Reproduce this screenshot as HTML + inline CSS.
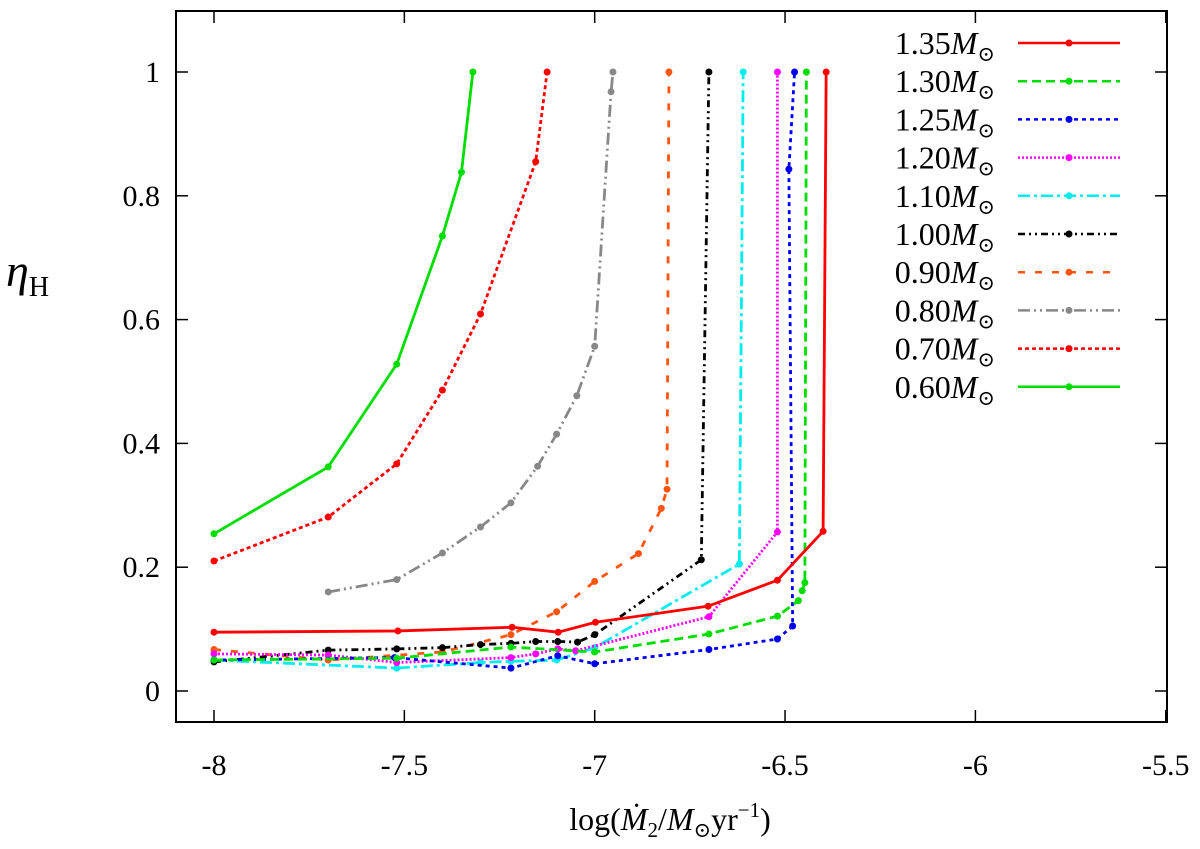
<!DOCTYPE html>
<html><head><meta charset="utf-8"><style>
body{margin:0;background:#fff;}
svg text{font-family:"Liberation Serif","DejaVu Serif",serif;}
</style></head><body>
<svg id="chart" width="1200" height="844" xmlns="http://www.w3.org/2000/svg">
<rect x="0" y="0" width="1200" height="844" fill="#fff"/>
<g id="ticks"></g>
<g id="series"></g>
<g id="legend"></g>
<rect x="176" y="11" width="991" height="711" fill="none" stroke="#000" stroke-width="2"/>
<text x="6" y="286" font-size="46" font-style="italic">η<tspan font-size="28" font-style="normal" dy="10">H</tspan></text>
<text x="670" y="830" font-size="32" text-anchor="middle">log(<tspan font-style="italic">Ṁ</tspan><tspan font-size="21" dy="7">2</tspan><tspan dy="-7">/</tspan><tspan font-style="italic">M</tspan><tspan font-size="21" dy="7">⊙</tspan><tspan dy="-7">yr</tspan><tspan font-size="21" dy="-13">−1</tspan><tspan dy="13">)</tspan></text>
</svg>
<script>
const xTicks=[-8,-7.5,-7,-6.5,-6,-5.5];
const xTickLabels=["-8","-7.5","-7","-6.5","-6","-5.5"];
const yTicks=[0,0.2,0.4,0.6,0.8,1];
const yTickLabels=["0","0.2","0.4","0.6","0.8","1"];
const seriesNames=["1.35","1.30","1.25","1.20","1.10","1.00","0.90","0.80","0.70","0.60"];
const x135=[-8,-7.517,-7.217,-7.096,-6.998,-6.702,-6.52,-6.40,-6.392];
const y135=[0.095,0.097,0.103,0.095,0.111,0.137,0.179,0.258,1.0];
const x130=[-8,-7.52,-7.22,-7.0,-6.7,-6.52,-6.465,-6.455,-6.448,-6.444];
const y130=[0.05,0.053,0.071,0.063,0.092,0.121,0.146,0.162,0.175,1.0];
const x125=[-8,-7.526,-7.22,-7.097,-7.0,-6.7,-6.52,-6.48,-6.49,-6.475];
const y125=[0.05,0.054,0.037,0.057,0.044,0.067,0.084,0.105,0.843,1.0];
const x120=[-8,-7.7,-7.52,-7.22,-7.155,-7.097,-7.05,-6.7,-6.52,-6.52];
const y120=[0.06,0.058,0.046,0.054,0.06,0.068,0.065,0.12,0.257,1.0];
const x110=[-8,-7.52,-7.3,-7.22,-7.1,-7.0,-6.62,-6.61];
const y110=[0.05,0.037,0.046,0.048,0.05,0.07,0.205,1.0];
const x100=[-8,-7.7,-7.52,-7.4,-7.3,-7.22,-7.155,-7.097,-7.045,-7.0,-6.72,-6.70];
const y100=[0.047,0.066,0.068,0.07,0.075,0.077,0.08,0.08,0.079,0.091,0.212,1.0];
const x090=[-8,-7.7,-7.4,-7.22,-7.1,-7.0,-6.885,-6.825,-6.81,-6.805];
const y090=[0.067,0.05,0.063,0.091,0.128,0.177,0.222,0.295,0.326,1.0];
const x080=[-7.7,-7.52,-7.4,-7.3,-7.22,-7.15,-7.1,-7.047,-7.0,-6.957,-6.952];
const y080=[0.16,0.18,0.223,0.265,0.304,0.363,0.415,0.477,0.557,0.968,1.0];
const x070=[-8,-7.7,-7.52,-7.4,-7.3,-7.155,-7.125];
const y070=[0.21,0.281,0.367,0.486,0.609,0.855,1.0];
const x060=[-8,-7.7,-7.52,-7.4,-7.35,-7.32];
const y060=[0.254,0.362,0.528,0.735,0.838,1.0];

const NS="http://www.w3.org/2000/svg";
function X(v){return 214+(v+8)*380.7;}
function Y(v){return 691-619*v;}
const styles=[
 ["#ff0000",""],["#00dd00","9,5"],["#0000ee","4,4"],["#ff00ff","2,2"],["#00eeee","12,4,3,4"],
 ["#000000","7,4,2,4,2,4"],["#ff5511","7,10"],["#888888","12,4,2,4,2,4"],["#ff0000","4,3"],["#00dd00",""]];
const xs=[x135,x130,x125,x120,x110,x100,x090,x080,x070,x060];
const ys=[y135,y130,y125,y120,y110,y100,y090,y080,y070,y060];
function mk(t,a,p){const e=document.createElementNS(NS,t);for(const k in a)e.setAttribute(k,a[k]);p.appendChild(e);return e;}
const tg=document.getElementById('ticks');
xTicks.forEach((v,i)=>{
 const l=mk('line',{x1:X(v),x2:X(v),y1:722,y2:710,stroke:'#000','stroke-width':1.5},tg);
 
 
 const l2=mk('line',{x1:X(v),x2:X(v),y1:11,y2:23,stroke:'#000','stroke-width':1.5},tg);
 
 
 const t=mk('text',{x:X(v),y:775,'font-size':30,'text-anchor':'middle'},tg);t.textContent=xTickLabels[i];
 
 
});
yTicks.forEach((v,i)=>{
 const l=mk('line',{x1:176,x2:188,y1:Y(v),y2:Y(v),stroke:'#000','stroke-width':1.5},tg);
 
 
 const l2=mk('line',{x1:1167,x2:1155,y1:Y(v),y2:Y(v),stroke:'#000','stroke-width':1.5},tg);
 
 
 const t=mk('text',{x:160,y:Y(v)+10,'font-size':30,'text-anchor':'end'},tg);t.textContent=yTickLabels[i];
 
 
});
const sg=document.getElementById('series');
const lg=document.getElementById('legend');
for(let s=seriesNames.length-1;s>=0;s--){
 const [c,d]=styles[s];
 const g=mk('g',{},sg);
 
 
 const pts=xs[s].map((v,i)=>X(v)+','+Y(ys[s][i])).join(' ');
 const pl=mk('polyline',{points:pts,fill:'none',stroke:c,'stroke-width':2.8,'stroke-dasharray':d},g);
 
 
 xs[s].forEach((v,i)=>{
  const p=mk('circle',{cx:X(v),cy:Y(ys[s][i]),r:3.5,fill:c},g);
  
  
 });
}
seriesNames.forEach((n,s)=>{
 const [c,d]=styles[s];
 const yy=43+38.2*s;
 const g=mk('g',{},lg);
 
 
 const t=mk('text',{x:995,y:yy+11,'font-size':32,'text-anchor':'end'},g);
 t.innerHTML=n+'<tspan font-style="italic">M</tspan><tspan font-size="21" dy="7">⊙</tspan>';
 mk('line',{x1:1018,x2:1120,y1:yy,y2:yy,stroke:c,'stroke-width':2.5,'stroke-dasharray':d},g);
 mk('circle',{cx:1069,cy:yy,r:3.5,fill:c},g);
});
</script>
</body></html>
